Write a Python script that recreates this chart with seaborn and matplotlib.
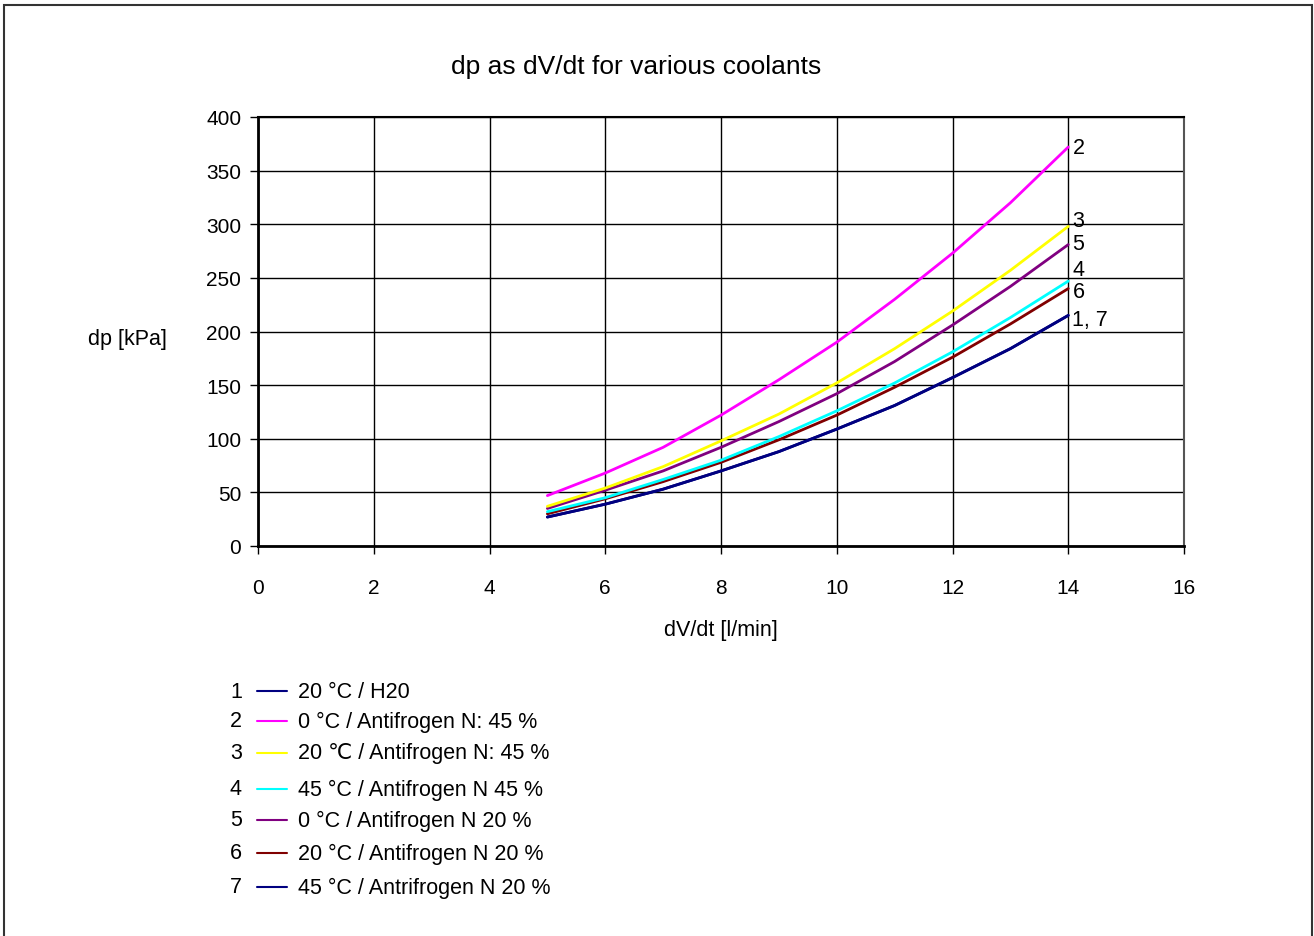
import numpy as np
import pandas as pd
import matplotlib
matplotlib.use("Agg")
import matplotlib.pyplot as plt
import seaborn as sns
from matplotlib.lines import Line2D
from matplotlib.patches import Rectangle

# flow rate [l/min]
flow = [5, 6, 7, 8, 9, 10, 11, 12, 13, 14]

# pressure drop [kPa] per coolant
dp_1 = [27, 39, 53, 70, 88, 109, 131, 157, 184, 215]
dp_2 = [47, 68, 92, 122, 155, 190, 230, 273, 320, 372]
dp_3 = [37, 54, 74, 98, 123, 152, 184, 219, 257, 298]
dp_4 = [32, 45, 62, 80, 102, 126, 152, 181, 213, 247]
dp_5 = [35, 52, 70, 92, 116, 142, 172, 206, 242, 281]
dp_6 = [30, 44, 60, 78, 99, 122, 148, 176, 207, 240]
dp_7 = [27, 39, 53, 70, 88, 109, 131, 157, 184, 215]

series_ids = ["1", "2", "3", "4", "5", "6", "7"]
series_names = [
    "20 °C / H20",
    "0 °C / Antifrogen N: 45 %",
    "20 ℃ / Antifrogen N: 45 %",
    "45 °C / Antifrogen N 45 %",
    "0 °C / Antifrogen N 20 %",
    "20 °C / Antifrogen N 20 %",
    "45 °C / Antrifrogen N 20 %",
]
colors = ["#000080", "#FF00FF", "#FFFF00", "#00FFFF", "#800080", "#800000", "#000080"]

end_labels = ["2", "3", "5", "4", "6", "1, 7"]
end_series = ["2", "3", "5", "4", "6", "1"]
end_offsets = [0, 4, 1, 8, -2, -3]

all_dp = [dp_1, dp_2, dp_3, dp_4, dp_5, dp_6, dp_7]
df = pd.concat(
    [pd.DataFrame({"flow": flow, "dp": v, "series": s}) for s, v in zip(series_ids, all_dp)],
    ignore_index=True,
)

sns.set_style("white")
plt.rcParams["font.family"] = ["Liberation Sans", "DejaVu Sans"]
plt.rcParams["text.color"] = "black"
plt.rcParams["axes.labelcolor"] = "black"

fig = plt.figure(figsize=(13.14, 9.37), dpi=100)
ax = fig.add_axes([258 / 1314, 1 - 547 / 937, (1184 - 258) / 1314, (547 - 118) / 937])

sns.lineplot(data=df, x="flow", y="dp", hue="series", palette=dict(zip(series_ids, colors)),
             hue_order=series_ids[::-1], legend=False, linewidth=2, ax=ax, zorder=3)

ax.set_xlim(0, 16)
ax.set_ylim(0, 400)
ax.set_xticks(range(0, 17, 2))
ax.set_yticks(range(0, 401, 50))
ax.grid(True, color="black", linewidth=1)
ax.tick_params(axis="both", labelsize=15, direction="out", length=6, width=1,
               color="black", labelcolor="black", left=True, bottom=True)
ax.tick_params(axis="x", pad=17)
ax.tick_params(axis="y", pad=6)
for side in ["left", "bottom"]:
    ax.spines[side].set_color("black")
    ax.spines[side].set_linewidth(2)
ax.spines["top"].set_color("black")
ax.spines["top"].set_linewidth(1.5)
ax.spines["right"].set_color("#555555")
ax.spines["right"].set_linewidth(1.5)

ax.set_xlabel("dV/dt [l/min]", fontsize=15.5, labelpad=16)
ax.set_ylabel("")
fig.text(127 / 1314, 1 - 340 / 937, "dp [kPa]", fontsize=15.5, ha="center", va="center")
fig.text(636 / 1314, 1 - 67 / 937, "dp as dV/dt for various coolants", fontsize=19,
         ha="center", va="center")

dp_by_id = dict(zip(series_ids, all_dp))
for lab, sid, off in zip(end_labels, end_series, end_offsets):
    ax.annotate(lab, xy=(flow[-1], dp_by_id[sid][-1]), xytext=(3, off),
                textcoords="offset points", fontsize=15.5, ha="left", va="center")

# legend rows
row_y = [692, 722, 754, 790, 821, 854, 888]
for sid, name, col, y in zip(series_ids, series_names, colors, row_y):
    fy = 1 - y / 937
    fig.text(236 / 1314, fy, sid, fontsize=15.5, ha="center", va="center")
    fig.add_artist(Line2D([257 / 1314, 287 / 1314], [fy, fy], color=col, linewidth=1.5,
                          transform=fig.transFigure))
    fig.text(298 / 1314, fy, name, fontsize=15.5, ha="left", va="center")

fig.add_artist(Rectangle((4 / 1314, -0.01), (1312 - 4) / 1314, 1.01 - 6 / 937,
                         transform=fig.transFigure, fill=False, edgecolor="#333333",
                         linewidth=1.5))

fig.savefig("out.png", dpi=100)
